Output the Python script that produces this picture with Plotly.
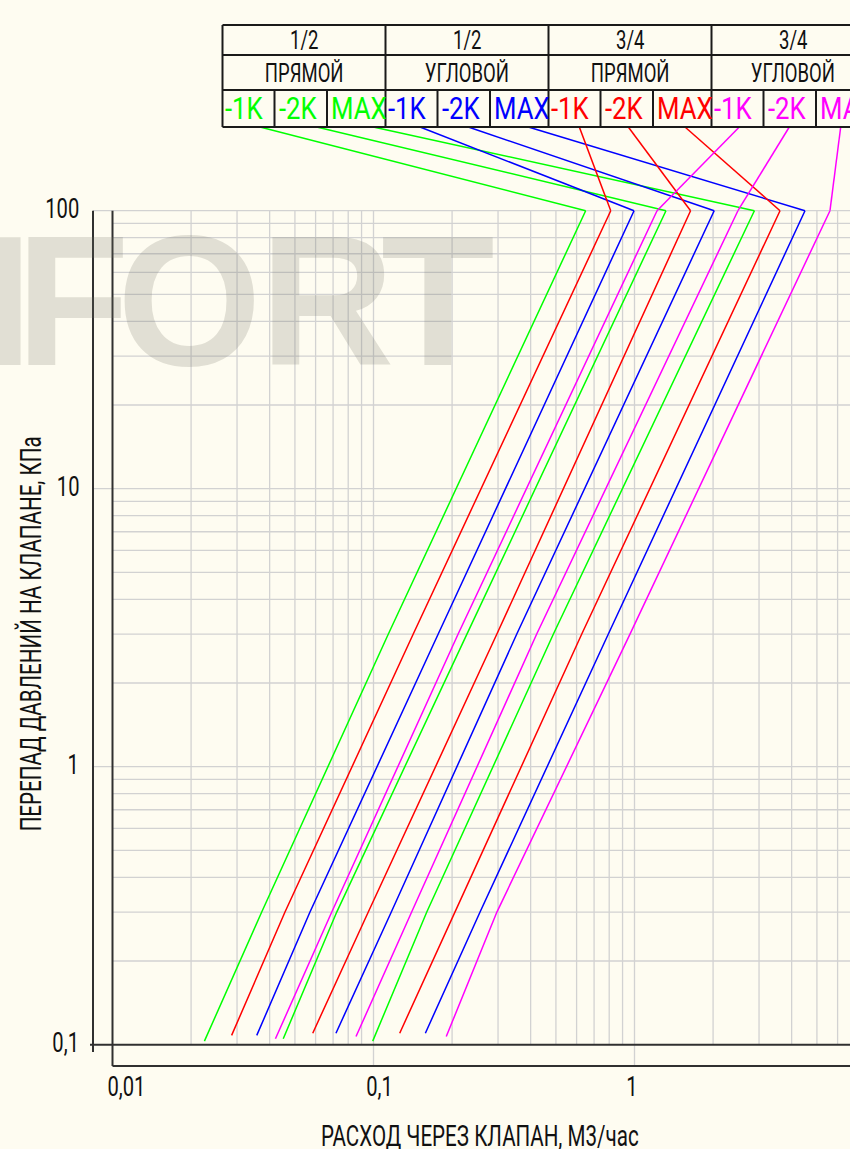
import math
import plotly.graph_objects as go

W, H = 850, 1149

# ---------------- data ----------------
valve_types = ["1/2 ПРЯМОЙ", "1/2 УГЛОВОЙ", "3/4 ПРЯМОЙ", "3/4 УГЛОВОЙ"]
type_sizes = ["1/2", "1/2", "3/4", "3/4"]
type_kinds = ["ПРЯМОЙ", "УГЛОВОЙ", "ПРЯМОЙ", "УГЛОВОЙ"]
type_colors = ["#00FF00", "#0000FF", "#FF0000", "#FF00FF"]
settings = ["-1K", "-2K", "MAX"]

# pressure-drop points (kPa) of each polyline: bottom end, 0.3, 3, 100
dp_mid = [0.3, 3, 100]

# 1/2 прямой (green)
q_12_straight = [[0.0225, 0.0373, 0.114, 0.650],
                 [0.0451, 0.0723, 0.228, 1.32],
                 [0.0993, 0.160, 0.489, 2.88]]
dp0_12_straight = [0.103, 0.105, 0.103]
# 1/2 угловой (blue)
q_12_angle = [[0.0357, 0.0571, 0.177, 0.996],
              [0.0718, 0.117, 0.354, 2.02],
              [0.158, 0.256, 0.794, 4.50]]
dp0_12_angle = [0.108, 0.110, 0.110]
# 3/4 прямой (red)
q_34_straight = [[0.0286, 0.0458, 0.142, 0.811],
                 [0.0585, 0.0955, 0.297, 1.64],
                 [0.126, 0.205, 0.628, 3.61]]
dp0_34_straight = [0.108, 0.110, 0.110]
# 3/4 угловой (magenta)
q_34_angle = [[0.0421, 0.0692, 0.211, 1.22],
              [0.0857, 0.140, 0.422, 2.49],
              [0.190, 0.297, 0.961, 5.61]]
dp0_34_angle = [0.105, 0.107, 0.107]

all_q = [q_12_straight, q_12_angle, q_34_straight, q_34_angle]
all_dp0 = [dp0_12_straight, dp0_12_angle, dp0_34_straight, dp0_34_angle]

x_ticks = [0.01, 0.1, 1]
x_tick_text = ["0,01", "0,1", "1"]
y_ticks = [0.1, 1, 10, 100]
y_tick_text = ["0,1", "1", "10", "100"]
x_title = "РАСХОД ЧЕРЕЗ КЛАПАН, М3/час"
y_title = "ПЕРЕПАД ДАВЛЕНИЙ НА КЛАПАНЕ, КПа"
watermark_letters = ["M", "F", "O", "R", "T"]

# ---------------- layout geometry (pixels) ----------------
X0PX, XDEC = 112.5, 261.0      # pixel of 0.01, pixels per decade
Y100PX, YDEC = 210.7, 278.0    # pixel of 100 kPa, pixels per decade


def px2lx(px):
    return -2 + (px - X0PX) / XDEC


def py2ly(py):
    return 2 - (py - Y100PX) / YDEC


def px2q(px):
    return 10 ** px2lx(px)


def py2p(py):
    return 10 ** py2ly(py)


def pxp(px):
    return px / W


def pyp(py):
    return 1 - py / H


BG = "#FEFCF1"
GRID = "#D2D2D2"
DARK = "#303030"
FONT = "Roboto, Liberation Sans, sans-serif"

fig = go.Figure()

Q_MIN, P_MIN, P_MAX = 0.01, 0.1, 100
q_right = px2q(W + 5)
p_frame_bottom = py2p(1066)
q_left_axis = px2q(93)
p_left_axis_bottom = py2p(1052)
q_dark_start = px2q(90)

# light grid
gx, gy = [], []
for dec in [0.1, 1, 10]:
    for m in range(2, 10):
        v = dec * m
        gx += [Q_MIN, q_right, None]
        gy += [v, v, None]
for v in [1, 10, 100]:
    gx += [q_left_axis, q_right, None]
    gy += [v, v, None]
for dec in [0.01, 0.1, 1]:
    for m in range(2, 10):
        v = dec * m
        gx += [v, v, None]
        gy += [P_MIN, P_MAX, None]
for v in [0.1, 1, 10]:
    gx += [v, v, None]
    gy += [p_frame_bottom, P_MAX, None]
fig.add_trace(go.Scatter(x=gx, y=gy, mode="lines", line=dict(color=GRID, width=1.3),
                         hoverinfo="skip", showlegend=False))

# dark frame lines
dx = [q_dark_start, q_right, None, Q_MIN, Q_MIN, None, Q_MIN, q_right, None,
      q_left_axis, q_left_axis, None]
dy = [P_MIN, P_MIN, None, P_MAX, p_frame_bottom, None, p_frame_bottom, p_frame_bottom, None,
      P_MAX, p_left_axis_bottom, None]
fig.add_trace(go.Scatter(x=dx, y=dy, mode="lines", line=dict(color=DARK, width=2),
                         hoverinfo="skip", showlegend=False))

# ---------------- table geometry ----------------
TAB_LEFT = 222.5
GROUP_W = 163.0
SUB_OFF = [0, 52, 104.5]
ROW_Y = [25, 55, 90, 127]
# where each leader leaves the bottom of its legend cell (offset from the cell's left edge)
LEADER_OFF = [[37.5, 42.2, 46.3],
              [34.5, 30.8, 38.3],
              [30.8, 27.8, 32.0],
              [27.8, 25.8, 24.7]]

# curves + leaders
for t in range(4):
    for s in range(3):
        qs = all_q[t][s]
        ps = [all_dp0[t][s]] + dp_mid
        col = type_colors[t]
        fig.add_trace(go.Scatter(x=qs, y=ps, mode="lines", line=dict(color=col, width=1.5),
                                 name=f"{valve_types[t]} {settings[s]}", showlegend=False))
        cell_px = TAB_LEFT + t * GROUP_W + SUB_OFF[s] + LEADER_OFF[t][s]
        fig.add_trace(go.Scatter(x=[qs[-1], px2q(cell_px)], y=[ps[-1], py2p(ROW_Y[3])],
                                 mode="lines", line=dict(color=col, width=1.5),
                                 hoverinfo="skip", showlegend=False))

shapes = []
TAB_LINE = dict(color="#1a1a1a", width=2)
x_end = TAB_LEFT + 4 * GROUP_W
for y in ROW_Y:
    shapes.append(dict(type="line", xref="paper", yref="paper", x0=pxp(TAB_LEFT), x1=pxp(x_end),
                       y0=pyp(y), y1=pyp(y), line=TAB_LINE))
for g in range(5):
    xg = TAB_LEFT + g * GROUP_W
    shapes.append(dict(type="line", xref="paper", yref="paper", x0=pxp(xg), x1=pxp(xg),
                       y0=pyp(ROW_Y[0]), y1=pyp(ROW_Y[3]), line=TAB_LINE))
    if g < 4:
        for off in SUB_OFF[1:]:
            shapes.append(dict(type="line", xref="paper", yref="paper", x0=pxp(xg + off), x1=pxp(xg + off),
                               y0=pyp(ROW_Y[2]), y1=pyp(ROW_Y[3]), line=TAB_LINE))

ann = []
# watermark letters (centre x of each letter, px)
WM_X = [-45, 73, 189, 327, 438]
for letter, cx in zip(watermark_letters, WM_X):
    ann.append(dict(text=f"<b>{letter}</b>", xref="paper", yref="paper", x=pxp(cx), y=pyp(301),
                    xanchor="center", yanchor="middle", showarrow=False,
                    font=dict(family="Liberation Sans, Arial", size=186, color="rgba(120,118,105,0.21)")))
for t in range(4):
    gx0 = TAB_LEFT + t * GROUP_W
    ann.append(dict(text=type_sizes[t], xref="paper", yref="paper", x=pxp(gx0 + GROUP_W / 2), y=pyp(40),
                    showarrow=False, xanchor="center", yanchor="middle",
                    font=dict(family=FONT, size=25, color="#111")))
    ann.append(dict(text=type_kinds[t], xref="paper", yref="paper", x=pxp(gx0 + GROUP_W / 2), y=pyp(73),
                    showarrow=False, xanchor="center", yanchor="middle",
                    font=dict(family=FONT, size=25, color="#111")))
    for s in range(3):
        ann.append(dict(text=settings[s], xref="paper", yref="paper", x=pxp(gx0 + SUB_OFF[s] + (0 if s == 0 else 2)),
                        y=pyp(109), showarrow=False, xanchor="left", align="left", yanchor="middle",
                        font=dict(family=FONT, size=31, color=type_colors[t])))

# tick labels
for v, txt in zip(y_ticks, y_tick_text):
    ann.append(dict(text=txt, xref="paper", yref="y", x=pxp(81), y=math.log10(v), yshift=2,
                    xanchor="right", align="right", yanchor="middle", showarrow=False,
                    font=dict(family=FONT, size=28, color="#111")))
for v, txt in zip(x_ticks, x_tick_text):
    ann.append(dict(text=txt, xref="x", yref="paper", x=math.log10(v), y=pyp(1086),
                    xshift=14 if v == 0.01 else (6 if v == 0.1 else -3),
                    xanchor="center", yanchor="middle", showarrow=False,
                    font=dict(family=FONT, size=28, color="#111")))
ann.append(dict(text=x_title, xref="paper", yref="paper", x=pxp(480), y=pyp(1136), xanchor="center",
                yanchor="middle", showarrow=False, font=dict(family=FONT, size=29, color="#111")))
ann.append(dict(text=y_title, xref="paper", yref="paper", x=pxp(31), y=pyp(634), xanchor="center",
                yanchor="middle", showarrow=False, textangle=-90, font=dict(family=FONT, size=29, color="#111")))

fig.update_layout(
    width=W, height=H, margin=dict(l=0, r=0, t=0, b=0),
    paper_bgcolor=BG, plot_bgcolor=BG,
    xaxis=dict(type="log", range=[px2lx(0), px2lx(W)], visible=False, fixedrange=True),
    yaxis=dict(type="log", range=[py2ly(H), py2ly(0)], visible=False, fixedrange=True),
    shapes=shapes, annotations=ann, showlegend=False,
)

# narrow "CAD" lettering: condense the glyphs horizontally (text stays real text)
post = """
document.body.style.margin='0';
var squeeze = {25: 0.74, 28: 0.72, 29: 0.71, 31: 0.83};
document.querySelectorAll('text.annotation-text').forEach(function(t){
  var fs = Math.round(parseFloat(t.style.fontSize));
  if (!(fs in squeeze)) return;
  var L = t.getComputedTextLength();
  t.setAttribute('textLength', (L * squeeze[fs]).toFixed(2));
  t.setAttribute('lengthAdjust', 'spacingAndGlyphs');
});
"""
fig.write_html("out.html", config={"displayModeBar": False}, post_script=post)
